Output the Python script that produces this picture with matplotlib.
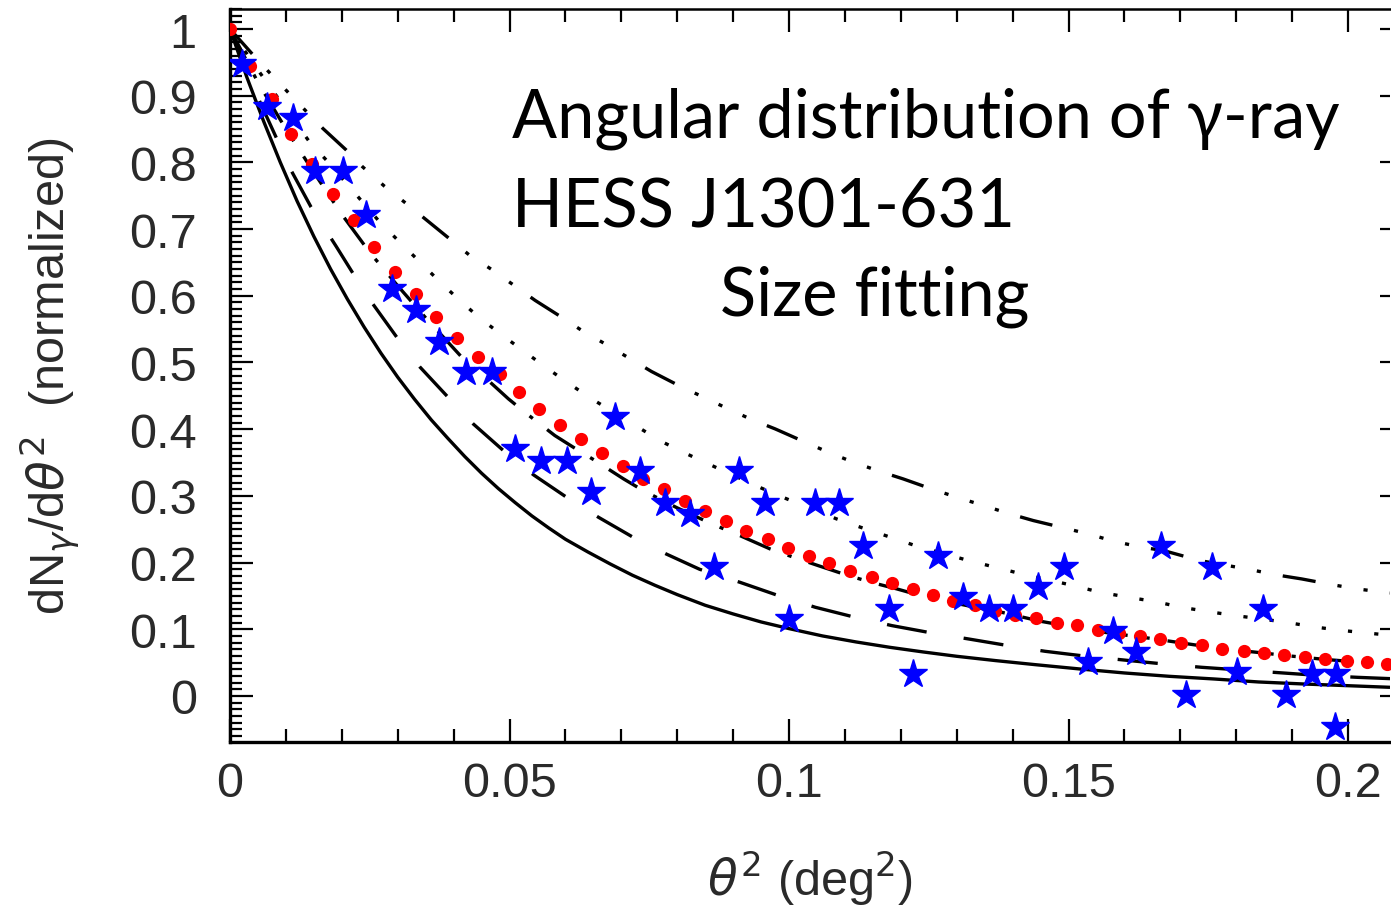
import matplotlib
matplotlib.use("Agg")
import matplotlib.pyplot as plt
from matplotlib.ticker import MultipleLocator, FuncFormatter

plt.rcParams['lines.scale_dashes'] = False
plt.rcParams['font.family'] = ['Liberation Sans', 'DejaVu Sans']

# ---- measured points (blue stars) ----
star_x = [0.0021, 0.0066, 0.0112, 0.0152, 0.0202, 0.0243, 0.0289, 0.0333, 0.0374, 0.0423,
          0.0468, 0.0510, 0.0556, 0.0602, 0.0645, 0.0689, 0.0734, 0.0778, 0.0823, 0.0866,
          0.0911, 0.0957, 0.1000, 0.1047, 0.1089, 0.1133, 0.1178, 0.1221, 0.1267, 0.1312,
          0.1357, 0.1401, 0.1445, 0.1491, 0.1534, 0.1579, 0.1621, 0.1665, 0.1710, 0.1756,
          0.1802, 0.1847, 0.1889, 0.1935, 0.1979, 0.1977]
star_y = [0.948, 0.883, 0.866, 0.787, 0.787, 0.721, 0.610, 0.578, 0.531, 0.485,
          0.485, 0.370, 0.353, 0.353, 0.306, 0.418, 0.338, 0.290, 0.273, 0.193,
          0.338, 0.290, 0.115, 0.290, 0.290, 0.225, 0.131, 0.033, 0.210, 0.148,
          0.131, 0.131, 0.163, 0.193, 0.051, 0.098, 0.066, 0.225, 0.001, 0.193,
          0.036, 0.131, 0.001, 0.033, 0.033, -0.047]

# ---- best-fit model (red dots) ----
fit_x = [0.0, 0.0036, 0.0075, 0.0110, 0.0146, 0.0184, 0.0221, 0.0258, 0.0295, 0.0333,
         0.0369, 0.0406, 0.0443, 0.0483, 0.0517, 0.0553, 0.0590, 0.0627, 0.0666, 0.0703,
         0.0738, 0.0777, 0.0814, 0.0850, 0.0887, 0.0923, 0.0962, 0.0998, 0.1035, 0.1072,
         0.1109, 0.1148, 0.1184, 0.1221, 0.1257, 0.1294, 0.1332, 0.1369, 0.1404, 0.1442,
         0.1479, 0.1516, 0.1553, 0.1590, 0.1628, 0.1664, 0.1701, 0.1738, 0.1774, 0.1813,
         0.1850, 0.1886, 0.1923, 0.1959, 0.1998, 0.2033, 0.2069]
fit_y = [1.000, 0.945, 0.895, 0.843, 0.798, 0.753, 0.713, 0.673, 0.636, 0.602,
         0.568, 0.537, 0.508, 0.483, 0.456, 0.430, 0.407, 0.385, 0.364, 0.345,
         0.326, 0.310, 0.293, 0.277, 0.262, 0.247, 0.235, 0.222, 0.210, 0.200,
         0.188, 0.178, 0.169, 0.161, 0.152, 0.143, 0.137, 0.128, 0.121, 0.117,
         0.110, 0.106, 0.099, 0.094, 0.090, 0.085, 0.080, 0.077, 0.071, 0.068,
         0.065, 0.062, 0.058, 0.055, 0.053, 0.051, 0.048]

# ---- comparison profiles (black curves) ----
solid_x = [0.0, 0.003, 0.006, 0.009, 0.012, 0.015, 0.018, 0.021, 0.024, 0.027,
           0.030, 0.033, 0.036, 0.039, 0.042, 0.045, 0.048, 0.051, 0.054, 0.057,
           0.060, 0.064, 0.068, 0.072, 0.076, 0.080, 0.085, 0.090, 0.095, 0.100,
           0.106, 0.112, 0.118, 0.124, 0.130, 0.137, 0.144, 0.152, 0.160, 0.168,
           0.176, 0.184, 0.192, 0.2075]
solid_y = [1.000, 0.928, 0.862, 0.800, 0.742, 0.689, 0.640, 0.595, 0.553, 0.514,
           0.478, 0.445, 0.414, 0.386, 0.359, 0.334, 0.311, 0.290, 0.270, 0.252,
           0.235, 0.216, 0.198, 0.181, 0.166, 0.152, 0.136, 0.123, 0.111, 0.101,
           0.090, 0.081, 0.073, 0.066, 0.0595, 0.053, 0.047, 0.0405, 0.0345, 0.0295,
           0.0255, 0.021, 0.018, 0.013]

longdash_x = [0.0, 0.0052, 0.0082, 0.0109, 0.0145, 0.019, 0.0245, 0.030, 0.034, 0.039,
              0.0435, 0.0489, 0.0543, 0.0602, 0.0659, 0.0721, 0.078, 0.084, 0.0912, 0.0981,
              0.1047, 0.1118, 0.1184, 0.1255, 0.1321, 0.1392, 0.1458, 0.1527, 0.1598, 0.167,
              0.1738, 0.1807, 0.1875, 0.1944, 0.2016, 0.2075]
longdash_y = [1.0, 0.8935, 0.8385, 0.7885, 0.733, 0.674, 0.600, 0.536, 0.493, 0.448,
              0.408, 0.368, 0.3315, 0.298, 0.268, 0.238, 0.213, 0.190, 0.1705, 0.1505,
              0.133, 0.118, 0.1055, 0.0945, 0.0855, 0.0755, 0.067, 0.060, 0.054, 0.048,
              0.043, 0.039, 0.035, 0.031, 0.028, 0.026]

dashdot_x = [0.0, 0.005, 0.010, 0.015, 0.020, 0.025, 0.030, 0.035, 0.042, 0.0462,
             0.0498, 0.0531, 0.0581, 0.0614, 0.0653, 0.0704, 0.0739, 0.080, 0.0862, 0.0912,
             0.0966, 0.1008, 0.1052, 0.1106, 0.1151, 0.1193, 0.1246, 0.1333, 0.1383, 0.145,
             0.155, 0.165, 0.1771, 0.1831, 0.1896, 0.1956, 0.2075]
dashdot_y = [1.0, 0.920, 0.850, 0.785, 0.722, 0.665, 0.615, 0.567, 0.503, 0.473,
             0.4455, 0.423, 0.3905, 0.373, 0.353, 0.3255, 0.308, 0.282, 0.258, 0.2405,
             0.2205, 0.208, 0.1955, 0.1805, 0.1695, 0.1605, 0.148, 0.133, 0.125, 0.112,
             0.097, 0.086, 0.071, 0.066, 0.060, 0.055, 0.047]

dotted_x = [0.0, 0.0047, 0.0142, 0.0175, 0.027, 0.0376, 0.0411, 0.0447, 0.0486, 0.0528,
            0.0567, 0.0607, 0.0647, 0.073, 0.0772, 0.0817, 0.0862, 0.0951, 0.0996, 0.1085,
            0.1133, 0.1178, 0.1222, 0.1321, 0.1369, 0.1416, 0.1464, 0.1509, 0.1556, 0.1607,
            0.1655, 0.1702, 0.175, 0.1798, 0.1846, 0.1896, 0.1944, 0.1992, 0.2039, 0.2075]
dotted_y = [1.0, 0.942, 0.831, 0.801, 0.7085, 0.6205, 0.593, 0.5665, 0.5415, 0.5155,
            0.4915, 0.468, 0.4455, 0.403, 0.3815, 0.363, 0.3455, 0.3115, 0.2955, 0.2655,
            0.2515, 0.239, 0.2265, 0.203, 0.193, 0.183, 0.174, 0.1655, 0.1555, 0.148,
            0.1415, 0.133, 0.1265, 0.1205, 0.1155, 0.1095, 0.103, 0.098, 0.094, 0.091]

dash3dot_x = [0.0, 0.005, 0.010, 0.0133, 0.0166, 0.0208, 0.0237, 0.0276, 0.0315, 0.0348,
              0.0392, 0.0429, 0.0468, 0.051, 0.0546, 0.0593, 0.0632, 0.0674, 0.0716, 0.0754,
              0.0805, 0.0847, 0.0891, 0.0933, 0.0975, 0.1029, 0.107, 0.1115, 0.1163, 0.1204,
              0.1258, 0.130, 0.1348, 0.1395, 0.1437, 0.1494, 0.1535, 0.1583, 0.1631, 0.167,
              0.1735, 0.1825, 0.1872, 0.1917, 0.1974, 0.2016, 0.2075]
dash3dot_y = [1.0, 0.953, 0.9085, 0.8795, 0.851, 0.8185, 0.7935, 0.7645, 0.7385, 0.716,
              0.686, 0.6605, 0.6395, 0.6145, 0.593, 0.568, 0.5465, 0.5265, 0.5055, 0.4865,
              0.4645, 0.448, 0.4305, 0.4145, 0.4005, 0.3805, 0.3655, 0.3505, 0.3365, 0.3255,
              0.3095, 0.298, 0.2855, 0.273, 0.263, 0.2515, 0.243, 0.2315, 0.223, 0.218,
              0.203, 0.1895, 0.1815, 0.1755, 0.1665, 0.1605, 0.1545]

fig = plt.figure(figsize=(13.91, 9.12), dpi=100)
ax = fig.add_axes([230 / 1391, 1 - 743 / 912, 1160 / 1391, 733 / 912])

lw = 2.4
curves = [
    (solid_x, solid_y, None),
    (longdash_x, longdash_y, (0, (29, 27))),
    (dashdot_x, dashdot_y, (0, (24, 13, 3, 13))),
    (dotted_x, dotted_y, (0, (3, 16))),
    (dash3dot_x, dash3dot_y, (0, (24, 16, 3, 16, 3, 16, 3, 16))),
]
for cx, cy, ls in curves:
    line, = ax.plot(cx, cy, color='black', lw=lw, solid_capstyle='butt',
                    dash_capstyle='butt', solid_joinstyle='round', zorder=2)
    if ls is not None:
        line.set_linestyle(ls)

ax.plot(fit_x, fit_y, 'o', color='#ff0000', ms=9.5, mec='none', zorder=3)
ax.plot(star_x, star_y, '*', color='#0000ff', ms=21, mec='#0000ff', zorder=4)

ax.set_xlim(0, 0.2075)
ax.set_ylim(-0.069, 1.03)

ax.xaxis.set_major_locator(MultipleLocator(0.05))
ax.xaxis.set_minor_locator(MultipleLocator(0.01))
ax.yaxis.set_minor_locator(MultipleLocator(0.01))
fmt = FuncFormatter(lambda v, p: '%g' % round(v, 3))
ax.xaxis.set_major_formatter(fmt)
ax.yaxis.set_major_formatter(fmt)
ax.set_yticks([i / 10 for i in range(11)])

ax.tick_params(which='both', direction='in', top=True, right=False, width=1.6,
               color='black', labelcolor='#2a2a2a', labelsize=35)
ax.tick_params(axis='x', which='major', length=16.5, pad=14)
ax.tick_params(axis='x', which='minor', length=9.5)
ax.tick_params(axis='y', which='major', length=16.5, pad=24)
ax.tick_params(axis='y', which='minor', length=8.5)

# short ticks along the right edge at the major y positions
ax_r = ax.secondary_yaxis('right')
ax_r.set_yticks([i / 10 for i in range(11)])
ax_r.tick_params(direction='in', length=7, width=1.6, labelright=False)
ax_r.spines['right'].set_visible(False)
ax.spines['right'].set_visible(False)

for side in ('left', 'bottom'):
    ax.spines[side].set_linewidth(2.4)
ax.spines['top'].set_linewidth(1.8)

ax.set_xlabel(r'$\theta^2$ (deg$^2$)', fontsize=35, color='#2a2a2a', labelpad=30)
ax.set_ylabel(r'dN$_\gamma$/d$\theta^2$  (normalized)', fontsize=35, color='#2a2a2a',
              labelpad=34)

# overlaid caption
cap_font = dict(family=['Lato', 'Liberation Serif'], fontsize=48, color='black')
fig.text(512 / 1391, 1 - 138 / 912, 'Angular distribution of γ-ray', va='baseline', **cap_font)
fig.text(512 / 1391, 1 - 227 / 912, 'HESS J1301-631', va='baseline', **cap_font)
fig.text(720 / 1391, 1 - 316 / 912, 'Size fitting', va='baseline', **cap_font)

fig.savefig('out.png', dpi=100, facecolor='white')
